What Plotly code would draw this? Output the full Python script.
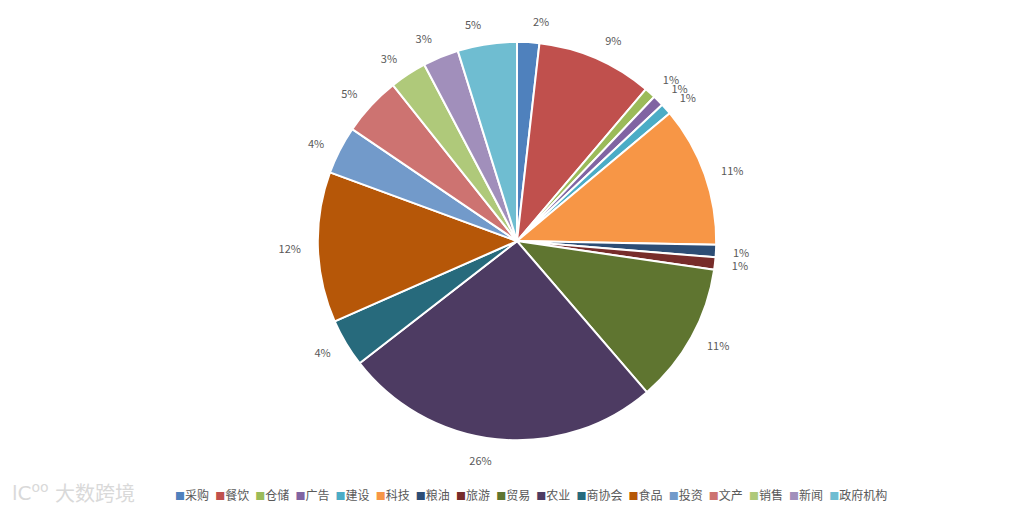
import plotly.graph_objects as go

categories = ["采购", "餐饮", "仓储", "广告", "建设", "科技", "粮油", "旅游", "贸易",
              "农业", "商协会", "食品", "投资", "文产", "销售", "新闻", "政府机构"]
values = [1.8, 9.4, 0.9, 0.9, 0.9, 11.4, 1.0, 1.0, 11.4,
          25.8, 3.9, 12.2, 3.9, 4.8, 3.0, 2.9, 4.8]
colors = ["#4F81BD", "#C0504D", "#9BBB59", "#8064A2", "#4BACC6", "#F79646",
          "#2C4D75", "#772C2A", "#5F7530", "#4D3B62", "#276A7C", "#B65708",
          "#729ACA", "#CD7371", "#AFC97A", "#A18FBB", "#6FBDD1"]

W, H = 1026, 510
OFF = 8  # page body margin offset
cx, cy, r, r_lab = 517 - OFF, 240 - OFF, 200, 213


def dom(rad):
    return dict(x=[(cx - rad) / W, (cx + rad) / W],
                y=[(H - cy - rad) / H, (H - cy + rad) / H])


def px(x, y):
    return x / W, (H - y) / H


LABEL_COLOR = "#595959"

fig = go.Figure()
fig.add_trace(go.Pie(
    labels=categories, values=values, sort=False, direction="clockwise", rotation=0,
    marker=dict(colors=colors, line=dict(color="white", width=2)),
    textinfo="none", domain=dom(r), showlegend=False,
    hoverinfo="label+percent",
))
# two transparent label-carrying pies (alternating slices) so that plotly does not
# shift neighbouring labels and draw connector lines
for parity in (0, 1):
    fig.add_trace(go.Pie(
        labels=categories, values=values, sort=False, direction="clockwise", rotation=0,
        marker=dict(colors=["rgba(0,0,0,0)"] * len(values), line=dict(width=0)),
        textposition=["outside" if i % 2 == parity else "none" for i in range(len(values))],
        texttemplate="%{percent:.0%}",
        textfont=dict(size=11, color=LABEL_COLOR, family="Noto Sans CJK SC"),
        outsidetextfont=dict(size=11, color=LABEL_COLOR, family="Noto Sans CJK SC"),
        domain=dom(r_lab), showlegend=False, hoverinfo="skip",
    ))

legend_text = "  \u200a".join(
    f"<span style='color:{c};font-size:10px'>■</span>{name}"
    for name, c in zip(categories, colors)
)
lx, ly = px(531 - OFF, 494 - OFF)
fig.add_annotation(text=legend_text, xref="paper", yref="paper",
                   x=lx, y=ly, xanchor="center", yanchor="middle",
                   showarrow=False,
                   font=dict(size=12, color=LABEL_COLOR, family="Noto Sans CJK SC"))

wx, wy = px(95 - OFF, 492 - OFF)
fig.add_annotation(text="大数跨境", xref="paper", yref="paper",
                   x=wx, y=wy, xanchor="center", yanchor="middle",
                   showarrow=False,
                   font=dict(size=20, color="#d9d9d9", family="Noto Sans CJK SC"))
gx, gy = px(30 - OFF, 492 - OFF)
fig.add_annotation(text="lC<sup>oo</sup>", xref="paper", yref="paper",
                   x=gx, y=gy, xanchor="center", yanchor="middle",
                   showarrow=False,
                   font=dict(size=20, color="#d9d9d9", family="DejaVu Sans"))

fig.update_layout(
    width=W, height=H,
    margin=dict(l=0, r=0, t=0, b=0),
    paper_bgcolor="white", plot_bgcolor="white",
    font=dict(family="Noto Sans CJK SC", color=LABEL_COLOR, size=12),
    showlegend=False,
)

fig.write_html("out.html")
